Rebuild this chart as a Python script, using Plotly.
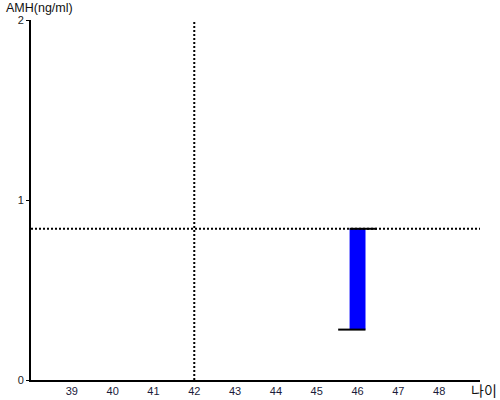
import plotly.graph_objects as go

# data
ages = [46]
amh_low = [0.28]
amh_high = [0.84]
ref_amh = 0.84
ref_age = 42
x_ticks = [39, 40, 41, 42, 43, 44, 45, 46, 47, 48]
y_ticks = [0, 1, 2]

bar_width = 0.39
tick_len = 0.28

fig = go.Figure()

fig.add_trace(go.Bar(
    x=ages, y=[h - l for h, l in zip(amh_high, amh_low)], base=amh_low,
    width=bar_width, marker=dict(color="#0000FF", line=dict(width=0)),
    hoverinfo="skip", showlegend=False))

# open (low) tick to the left, close (high) tick to the right
xs, ys = [], []
for a, l, h in zip(ages, amh_low, amh_high):
    hw = bar_width / 2
    xs += [a - hw - tick_len, a + hw, None, a - hw, a + hw + tick_len, None]
    ys += [l, l, None, h, h, None]
fig.add_trace(go.Scatter(x=xs, y=ys, mode="lines",
                         line=dict(color="black", width=2),
                         hoverinfo="skip", showlegend=False))

fig.add_shape(type="line", xref="paper", x0=0, x1=1, yref="y", y0=ref_amh, y1=ref_amh,
              line=dict(color="black", width=2, dash="2px,2px"))
fig.add_shape(type="line", xref="x", x0=ref_age, x1=ref_age, yref="paper", y0=0, y1=1,
              line=dict(color="black", width=2, dash="2px,2px"))

font = "Liberation Sans, Arial, sans-serif"
fig.update_layout(
    width=500, height=400,
    margin=dict(l=31, r=20, t=20, b=20, autoexpand=False),
    paper_bgcolor="white", plot_bgcolor="white",
    font=dict(family=font, size=11, color="#222"),
    xaxis=dict(range=[38, 49], tickvals=x_ticks, ticktext=[str(t) for t in x_ticks],
               showgrid=False, zeroline=False, showline=True, linecolor="black",
               linewidth=2, ticks="", ticklen=0, automargin=False,
               tickfont=dict(size=11, color="#1a1a3a")),
    yaxis=dict(range=[0, 2], tickvals=y_ticks, showgrid=False, zeroline=False,
               showline=True, linecolor="black", linewidth=2, ticks="outside",
               ticklen=3, tickcolor="black", automargin=False,
               tickfont=dict(size=11, color="#222")),
    annotations=[
        dict(text="AMH(ng/ml)", xref="paper", yref="paper", x=-27/449, y=1 + 3/360,
             xanchor="left", yanchor="bottom", showarrow=False,
             font=dict(family=font, size=12.5, color="#111")),
        dict(text="나이", xref="paper", yref="paper", x=1 + 19/449, y=-10/360,
             xanchor="right", yanchor="middle", showarrow=False,
             font=dict(family="Noto Sans CJK KR", size=14, color="#111")),
    ],
)

fig.write_html("out.html", config={"displayModeBar": False},
               post_script="document.body.style.margin='0';document.body.style.overflow='hidden';")
